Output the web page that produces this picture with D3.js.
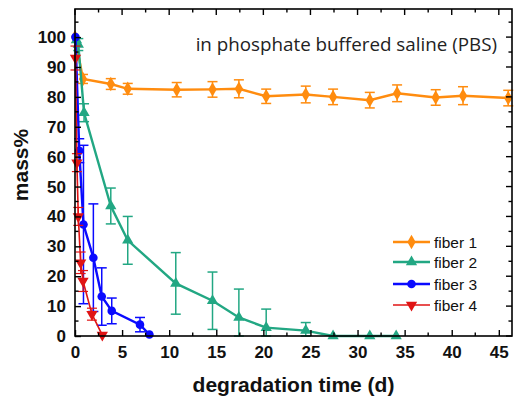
<!DOCTYPE html>
<html><head><meta charset="utf-8">
<script src="https://cdn.jsdelivr.net/npm/d3@7"></script>
<style>body{margin:0;background:#fff}svg{display:block}</style>
</head><body>
<script>
// ---- data ----
const seriesNames = ["fiber 1", "fiber 2", "fiber 3", "fiber 4"];
const f1x = [0, 0.85, 3.8, 5.6, 10.8, 14.6, 17.4, 20.3, 24.5, 27.4, 31.3, 34.2, 38.3, 41.2, 46.0];
const f1y = [100, 86.0, 84.3, 82.7, 82.4, 82.5, 82.7, 80.2, 80.8, 80.0, 78.9, 81.2, 79.8, 80.4, 79.6];
const f1e = [0, 1.5, 1.8, 1.8, 2.4, 2.6, 3.0, 2.4, 2.8, 2.6, 2.6, 2.8, 2.6, 3.0, 2.6];
const f2x = [0.15, 0.35, 0.96, 3.8, 5.6, 10.7, 14.6, 17.4, 20.3, 24.5, 27.4, 31.3, 34.1];
const f2y = [99, 97.5, 74.7, 43.5, 32.0, 17.6, 11.8, 6.2, 2.8, 1.8, 0, 0, 0];
const f2e = [0, 2, 3, 6, 8, 10.3, 9.6, 9.5, 6.2, 2.7, 0, 0, 0];
const f3x = [0.05, 0.45, 0.9, 1.95, 2.84, 3.9, 6.9, 7.9];
const f3y = [100, 62, 37.3, 26.2, 13.2, 8.4, 3.8, 0.5];
const f3e = [0, 4, 26.5, 18, 9.6, 4.3, 2.4, 0];
const f4x = [0.05, 0.2, 0.35, 0.6, 0.85, 1.8, 2.9];
const f4y = [93, 58, 40, 24.5, 18.4, 7.3, 0.3];
const f4e = [4, 3, 3, 3.6, 3.5, 2, 0];
const xTicks = [0, 5, 10, 15, 20, 25, 30, 35, 40, 45];
const yTicks = [0, 10, 20, 30, 40, 50, 60, 70, 80, 90, 100];
const titleText = "in phosphate buffered saline (PBS)";

const colors = ["#ff8c0f", "#22a783", "#0a0aff", "#e01414"];
const lineW = [2.4, 2.4, 2.4, 1.6];

const W = 515, H = 399;
const L = 75, R = 512, T = 9, B = 336;
const x = d3.scaleLinear().domain([0, 46.4]).range([L, R]);
const y = d3.scaleLinear().domain([0, 109.4]).range([B, T]);

const svg = d3.select("body").append("svg").attr("width", W).attr("height", H);

const series = [
  {x: f1x, y: f1y, e: f1e},
  {x: f2x, y: f2y, e: f2e},
  {x: f3x, y: f3y, e: f3e},
  {x: f4x, y: f4y, e: f4e}
].map((s, i) => ({name: seriesNames[i], color: colors[i], pts: s.x.map((v, j) => ({x: v, y: s.y[j], e: s.e[j]}))}));

const line = d3.line().x(d => x(d.x)).y(d => y(d.y));

function marker(g, i, cx, cy) {
  const c = colors[i];
  if (i === 0) {
    g.append("path").attr("d", d3.symbol().type(d3.symbolDiamond).size(60)())
      .attr("transform", `translate(${cx},${cy})`).attr("fill", c);
  } else if (i === 1) {
    g.append("path").attr("d", d3.symbol().type(d3.symbolTriangle).size(55)())
      .attr("transform", `translate(${cx},${cy})`).attr("fill", c);
  } else if (i === 2) {
    g.append("circle").attr("cx", cx).attr("cy", cy).attr("r", 4.3).attr("fill", c);
  } else {
    g.append("path").attr("d", d3.symbol().type(d3.symbolTriangle).size(55)())
      .attr("transform", `translate(${cx},${cy}) rotate(180)`).attr("fill", c);
  }
}

series.forEach((s, i) => {
  const g = svg.append("g");
  s.pts.forEach(p => {
    if (p.e > 0) {
      const x0 = x(p.x), y1 = y(p.y + p.e), y2 = y(Math.max(0, p.y - p.e));
      const ew = i === 3 ? 1.2 : 1.5;
      g.append("line").attr("x1", x0).attr("x2", x0).attr("y1", y1).attr("y2", y2).attr("stroke", s.color).attr("stroke-width", ew);
      g.append("line").attr("x1", x0 - 5).attr("x2", x0 + 5).attr("y1", y1).attr("y2", y1).attr("stroke", s.color).attr("stroke-width", ew);
      g.append("line").attr("x1", x0 - 5).attr("x2", x0 + 5).attr("y1", y2).attr("y2", y2).attr("stroke", s.color).attr("stroke-width", ew);
    }
  });
  g.append("path").datum(s.pts).attr("d", line).attr("fill", "none")
    .attr("stroke", s.color).attr("stroke-width", lineW[i]);
  s.pts.forEach(p => marker(g, i, x(p.x), y(p.y)));
});

// frame
svg.append("rect").attr("x", L).attr("y", T).attr("width", R - L).attr("height", B - T)
  .attr("fill", "none").attr("stroke", "#000").attr("stroke-width", 1.6);

// axes
const font = "'Liberation Sans', Arial, sans-serif";
const xAxis = d3.axisBottom(x).tickValues(xTicks).tickSize(-6).tickPadding(10).tickFormat(d3.format("d"));
const gx = svg.append("g").attr("transform", `translate(0,${B})`).call(xAxis);
const yAxis = d3.axisLeft(y).tickValues(yTicks).tickSize(-6).tickPadding(9).tickFormat(d3.format("d"));
const gy = svg.append("g").attr("transform", `translate(${L},0)`).call(yAxis);
[gx, gy].forEach(g => {
  g.select(".domain").remove();
  g.selectAll(".tick line").attr("stroke", "#000").attr("stroke-width", 1.4);
  g.selectAll("text").attr("font-family", font).attr("font-weight", "bold").attr("font-size", 17).attr("fill", "#111");
});
const xMinor = d3.range(2.5, 46.4, 5);
const yMinor = d3.range(5, 109.4, 10);
const tk = svg.append("g").attr("stroke", "#000").attr("stroke-width", 1.4);
xTicks.forEach(v => tk.append("line").attr("x1", x(v)).attr("x2", x(v)).attr("y1", T).attr("y2", T + 6));
xMinor.forEach(v => {
  tk.append("line").attr("x1", x(v)).attr("x2", x(v)).attr("y1", B).attr("y2", B - 3.5);
  tk.append("line").attr("x1", x(v)).attr("x2", x(v)).attr("y1", T).attr("y2", T + 3.5);
});
yTicks.forEach(v => tk.append("line").attr("x1", R).attr("x2", R - 6).attr("y1", y(v)).attr("y2", y(v)));
yMinor.forEach(v => {
  tk.append("line").attr("x1", L).attr("x2", L + 3.5).attr("y1", y(v)).attr("y2", y(v));
  tk.append("line").attr("x1", R).attr("x2", R - 3.5).attr("y1", y(v)).attr("y2", y(v));
});

// axis titles
svg.append("text").attr("x", (L + R) / 2).attr("y", 392).attr("text-anchor", "middle")
  .attr("font-family", font).attr("font-weight", "bold").attr("font-size", 21).attr("fill", "#111")
  .text("degradation time (d)");
svg.append("text").attr("transform", `translate(28,165) rotate(-90)`).attr("text-anchor", "middle")
  .attr("font-family", font).attr("font-weight", "bold").attr("font-size", 21).attr("fill", "#111")
  .text("mass%");

// inset title
svg.append("text").attr("x", 497).attr("y", 51).attr("text-anchor", "end")
  .attr("font-family", "'Open Sans', 'Noto Sans', sans-serif").attr("font-size", 18.8).attr("fill", "#222")
  .text(titleText);

// legend
const lg = svg.append("g");
const legY = [242, 262, 284, 305];
seriesNames.forEach((n, i) => {
  const yy = legY[i];
  lg.append("line").attr("x1", 393).attr("x2", 430).attr("y1", yy).attr("y2", yy)
    .attr("stroke", colors[i]).attr("stroke-width", lineW[i]);
  marker(lg, i, 411.5, yy);
  lg.append("text").attr("x", 434).attr("y", yy + 5.5).attr("font-family", font)
    .attr("font-size", 15.5).attr("fill", "#111").text(n);
});
</script>
</body></html>
